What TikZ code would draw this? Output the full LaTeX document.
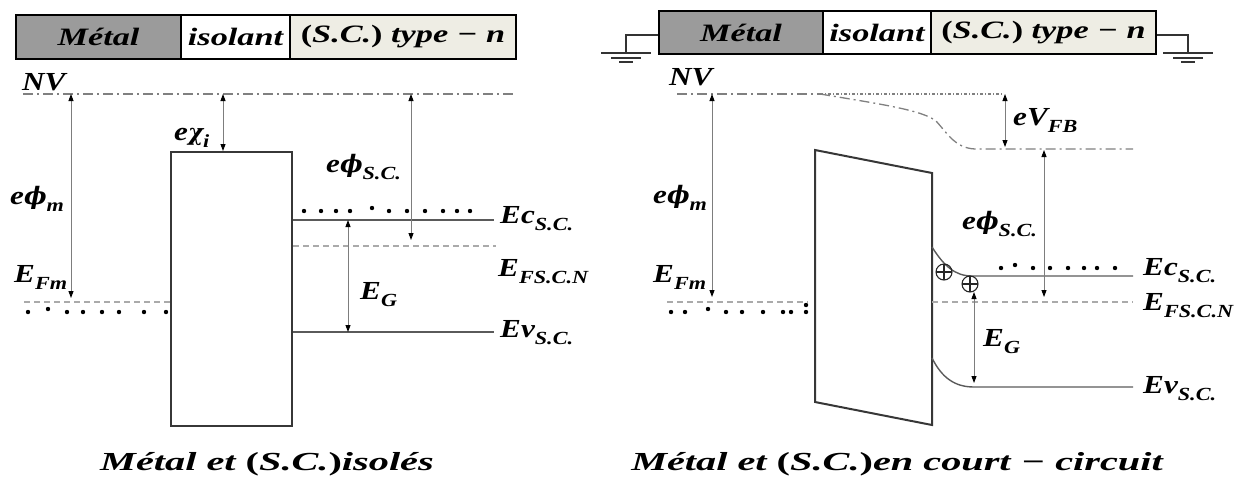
\documentclass[tikz,border=0pt]{standalone}
\usepackage{fontspec}
\usepackage{graphicx}
\setmainfont{Liberation Serif}
\newfontfamily\barf[FakeStretch=1.37]{Liberation Serif}
\newfontfamily\labf[FakeStretch=1.2]{Liberation Serif}
\newfontfamily\capf[FakeStretch=1.55]{Liberation Serif}
\newfontfamily\gkf{DejaVu Serif}
\usetikzlibrary{arrows.meta}
\definecolor{metalgray}{RGB}{155,155,155}
\definecolor{scbeige}{RGB}{238,237,228}
\definecolor{arrowgray}{RGB}{125,125,125}
\definecolor{levelgray}{RGB}{90,90,90}
\definecolor{dashgray}{RGB}{170,170,170}
\definecolor{boxline}{RGB}{55,55,55}
\newcommand\Lb[1]{{\labf\bfseries\itshape\fontsize{26}{28}\selectfont #1}}
\newcommand\sbs[1]{\raisebox{-0.3em}{\fontsize{18.5}{20}\selectfont #1}}
\newcommand\gph{{\gkf\bfseries\itshape\fontsize{24}{26}\selectfont ϕ}}
\newcommand\gchi{{\gkf\bfseries\itshape\fontsize{23}{25}\selectfont χ}}
\newcommand\Bt[1]{{\barf\bfseries\itshape\fontsize{25}{27}\selectfont #1}}
\newcommand\Ct[1]{{\capf\bfseries\itshape\fontsize{26}{28}\selectfont #1}}
\tikzset{
  barcell/.style={draw=black, line width=1.8pt, inner sep=0pt},
  gap/.style={{Triangle[length=7pt,width=5pt,color=black]}-{Triangle[length=7pt,width=5pt,color=black]}, draw=arrowgray, line width=0.9pt},
  level/.style={draw=levelgray, line width=1.4pt},
  fermi/.style={draw=dashgray, line width=1.8pt, dash pattern=on 6pt off 4pt},
  vac/.style={draw=gray, line width=1.3pt, dash pattern=on 10pt off 4pt on 2pt off 4pt},
  vacdot/.style={draw=gray, line width=1.3pt, dash pattern=on 3pt off 2pt on 1pt off 2pt},
  insbox/.style={draw=boxline, line width=2pt},
  lab/.style={anchor=base west, inner sep=0pt},
  gnd/.style={draw=black!80, line width=1.2pt},
  oplus/.style={circle, draw=black!85, line width=1.1pt, minimum size=16pt, inner sep=0pt,
    path picture={\draw[black!85, line width=1.1pt] (path picture bounding box.north) -- (path picture bounding box.south)
      (path picture bounding box.west) -- (path picture bounding box.east);}}
}
\begin{document}
\begin{tikzpicture}[x=1pt,y=-1pt]
\useasboundingbox (0,0) rectangle (1238,483);
% ---------------- left panel ----------------
\node[barcell, fill=metalgray, minimum width=165pt, minimum height=44pt] (mL) at (98.5,37) {\Bt{Métal}};
\node[barcell, fill=white, minimum width=109pt, minimum height=44pt] (iL) at (235.5,37) {\Bt{isolant}};
\node[barcell, fill=scbeige, minimum width=226pt, minimum height=44pt] (sL) at (403,37) {\Bt{{\upshape(}S.C.{\upshape)} type − n}};
\node[insbox, minimum width=121pt, minimum height=274pt] (insL) at (231.5,289) {};
\draw[vac] (23,94) -- (514,94);
\coordinate (ecLa) at (insL.east |- 0,220);
\coordinate (efLa) at (insL.east |- 0,246);
\coordinate (evLa) at (insL.east |- 0,332);
\draw[level] (ecLa) -- (494,220);
\draw[fermi] (efLa) -- (496,246);
\draw[level] (evLa) -- (494,332);
\draw[fermi] (24,302) -- (insL.west |- 0,302);
\foreach \x/\y in {304/211,321/211,336/211,350/211,372/208,389/211,407/211,425/211,443/211,457/211,470/211}
  \fill (\x,\y) circle (2.2pt);
\foreach \x/\y in {28/312,48/309,67/312,83/312,102/312,119/312,144/312,166/312}
  \fill (\x,\y) circle (2.2pt);
\draw[gap] (71,94) -- (71,298);
\draw[gap] (223,94) -- (insL.north -| 223,0);
\draw[gap] (411,94) -- (411,240);
\draw[gap] (348,220) -- (348,332);
\node[lab] (nvL) at (22,90) {\Lb{NV}};
\node[lab] (phimL) at (10,204) {\Lb{e\gph\sbs{m}}};
\node[lab] (chiL) at (174,140) {\Lb{e\gchi\sbs{i}}};
\node[lab] (phiscL) at (326,172) {\Lb{e\gph\sbs{S.C.}}};
\node[lab] (efmL) at (14,282) {\Lb{E\sbs{Fm}}};
\node[lab] (egL) at (360,299) {\Lb{E\sbs{G}}};
\node[lab] (ecL) at (500,223) {\Lb{Ec\sbs{S.C.}}};
\node[lab] (efL) at (498,276) {\Lb{E\sbs{FS.C.N}}};
\node[lab] (evL) at (500,337) {\Lb{Ev\sbs{S.C.}}};
\node[anchor=base, inner sep=0pt] (capL) at (267,470) {\Ct{Métal et {\upshape(}S.C.{\upshape)}isolés}};
% ---------------- right panel ----------------
\node[barcell, fill=metalgray, minimum width=164pt, minimum height=43pt] (mR) at (741,32.5) {\Bt{Métal}};
\node[barcell, fill=white, minimum width=108pt, minimum height=43pt] (iR) at (877,32.5) {\Bt{isolant}};
\node[barcell, fill=scbeige, minimum width=225pt, minimum height=43pt] (sR) at (1043.5,32.5) {\Bt{{\upshape(}S.C.{\upshape)} type − n}};
% grounds
\coordinate (gl) at (626,53);
\coordinate (gr) at (1188,53);
\draw[gnd] (mR.west |- 0,35) -| (gl);
\draw[gnd] ([xshift=-25pt]gl) -- ([xshift=25pt]gl);
\draw[gnd] ([xshift=-15pt,yshift=-5pt]gl) -- ([xshift=15pt,yshift=-5pt]gl);
\draw[gnd] ([xshift=-7pt,yshift=-9pt]gl) -- ([xshift=7pt,yshift=-9pt]gl);
\draw[gnd] (sR.east |- 0,35) -| (gr);
\draw[gnd] ([xshift=-25pt]gr) -- ([xshift=25pt]gr);
\draw[gnd] ([xshift=-15pt,yshift=-5pt]gr) -- ([xshift=15pt,yshift=-5pt]gr);
\draw[gnd] ([xshift=-7pt,yshift=-9pt]gr) -- ([xshift=7pt,yshift=-9pt]gr);
% insulator (tilted)
\coordinate (ptl) at (815,150);
\coordinate (ptr) at (932,173);
\coordinate (pbr) at (932,425);
\coordinate (pbl) at (815,402);
\draw[insbox] (ptl) -- (ptr) -- (pbr) -- (pbl) -- cycle;
% vacuum level
\draw[vac] (677,94) -- (820,94);
\draw[vacdot] (820,94) -- (1003,94);
\draw[vac] (820,94) .. controls (880,104) and (922,110) .. (936,121) .. controls (948,134) and (955,148) .. (975,149) -- (1133,149);
% bands
\draw[level] (932,247) .. controls (944,266) and (955,276) .. (972,276) -- (1133,276);
\draw[level] (932,358) .. controls (942,378) and (955,387) .. (974,387) -- (1133,387);
\draw[fermi] (932,302) -- (1133,302);
\draw[fermi] (667,302) -- (808,302);
\foreach \x/\y in {1001/268,1015/265,1033/268,1050/268,1068/268,1084/268,1097/268,1115/268}
  \fill (\x,\y) circle (2.2pt);
\foreach \x/\y in {671/312,685/312,708/309,726/312,742/312,763/312,783/312,791/312,806/312,806/305}
  \fill (\x,\y) circle (2.2pt);
\node[oplus] (p1) at (944,272) {};
\node[oplus] (p2) at (970,284) {};
% arrows
\draw[gap] (1005,94) -- (1005,147);
\draw[gap] (712,94) -- (712,297);
\draw[gap] (1044,150) -- (1044,297);
\draw[gap] (974,292) -- (974,383);
% labels
\node[lab] (nvR) at (669,85) {\Lb{NV}};
\node[lab] (phimR) at (653,203) {\Lb{e\gph\sbs{m}}};
\node[lab] (efmR) at (653,282) {\Lb{E\sbs{Fm}}};
\node[lab] (vfbR) at (1013,125) {\Lb{eV\sbs{FB}}};
\node[lab] (phiscR) at (962,229) {\Lb{e\gph\sbs{S.C.}}};
\node[lab] (egR) at (983,346) {\Lb{E\sbs{G}}};
\node[lab] (ecR) at (1143,275) {\Lb{Ec\sbs{S.C.}}};
\node[lab] (efR) at (1143,310) {\Lb{E\sbs{FS.C.N}}};
\node[lab] (evR) at (1143,393) {\Lb{Ev\sbs{S.C.}}};
\node[anchor=base, inner sep=0pt] (capR) at (897,470) {\Ct{Métal et {\upshape(}S.C.{\upshape)}en court − circuit}};
\end{tikzpicture}
\end{document}
